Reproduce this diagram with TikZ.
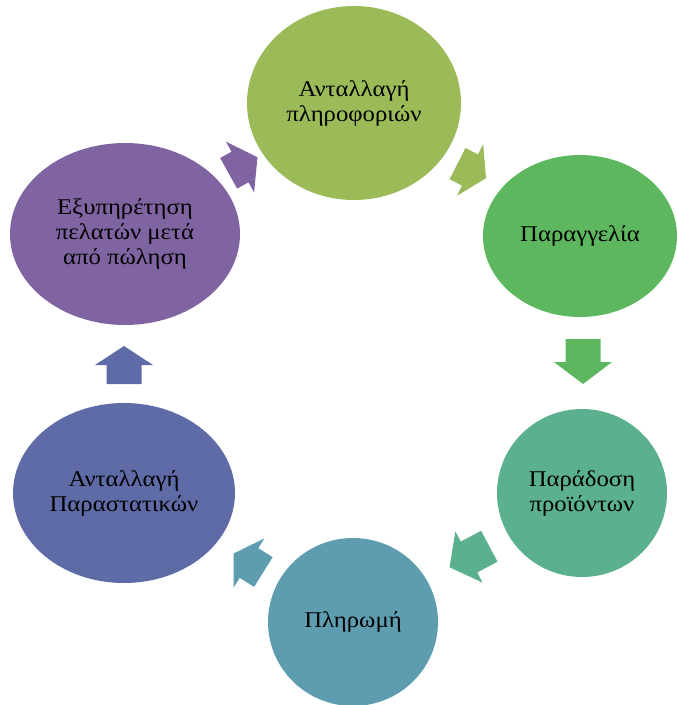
\documentclass[tikz,border=0pt]{standalone}
\usepackage{fontspec}
\setmainfont{Liberation Serif}[FakeStretch=1.1]
\usetikzlibrary{shapes.geometric}
\definecolor{cA}{HTML}{9BBB59}
\definecolor{cB}{HTML}{5DB75E}
\definecolor{cC}{HTML}{5BB08E}
\definecolor{cD}{HTML}{5E9DAF}
\definecolor{cE}{HTML}{5F6BA7}
\definecolor{cF}{HTML}{8064A2}
\tikzset{
  stage/.style={ellipse, draw=none, inner sep=0pt, align=center,
    font=\fontsize{22.5}{25}\selectfont, text=black},
}
% #1 position, #2 angle, #3 tail length, #4 head length, #5 colour
\newcommand{\blockarrow}[5]{%
  \begin{scope}[shift={#1}, rotate=#2]
    \fill[#5] (-#3,-17.5) -- (0,-17.5) -- (0,-29) -- (#4,0) -- (0,29) -- (0,17.5) -- (-#3,17.5) -- cycle;
  \end{scope}}
\begin{document}
\begin{tikzpicture}[x=1pt,y=-1pt]
\useasboundingbox (0,0) rectangle (677,705);
\clip (0,0) rectangle (677,705);
\node[stage, fill=cA, minimum width=214pt, minimum height=194pt] (n1) at (354,103) {Ανταλλαγή\\πληροφοριών};
\node[stage, fill=cB, minimum width=194pt, minimum height=162pt] (n2) at (580,236) {Παραγγελία};
\node[stage, fill=cC, minimum width=170pt, minimum height=168pt] (n3) at (582,493) {Παράδοση\\προϊόντων};
\node[stage, fill=cD, minimum width=170pt, minimum height=168pt] (n4) at (353,622) {Πληρωμή};
\node[stage, fill=cE, minimum width=222pt, minimum height=180pt] (n5) at (124,493) {Ανταλλαγή\\Παραστατικών};
\node[stage, fill=cF, minimum width=230pt, minimum height=182pt] (n6) at (125,234) {Εξυπηρέτηση\\πελατών μετά\\από πώληση};
\coordinate (a1) at (240,167);
\coordinate (a2) at (470,170);
\coordinate (a3) at (583,362);
\coordinate (a4) at (469,557);
\coordinate (a5) at (249,563);
\coordinate (a6) at (124,365);
\blockarrow{(a1)}{29}{13}{20}{cF}
\blockarrow{(a2)}{-27}{14}{18}{cA}
\blockarrow{(a3)}{-90}{23}{22}{cB}
\blockarrow{(a4)}{-152}{23}{22}{cC}
\blockarrow{(a5)}{148}{17}{18}{cD}
\blockarrow{(a6)}{90}{19}{19}{cE}
\end{tikzpicture}
\end{document}
